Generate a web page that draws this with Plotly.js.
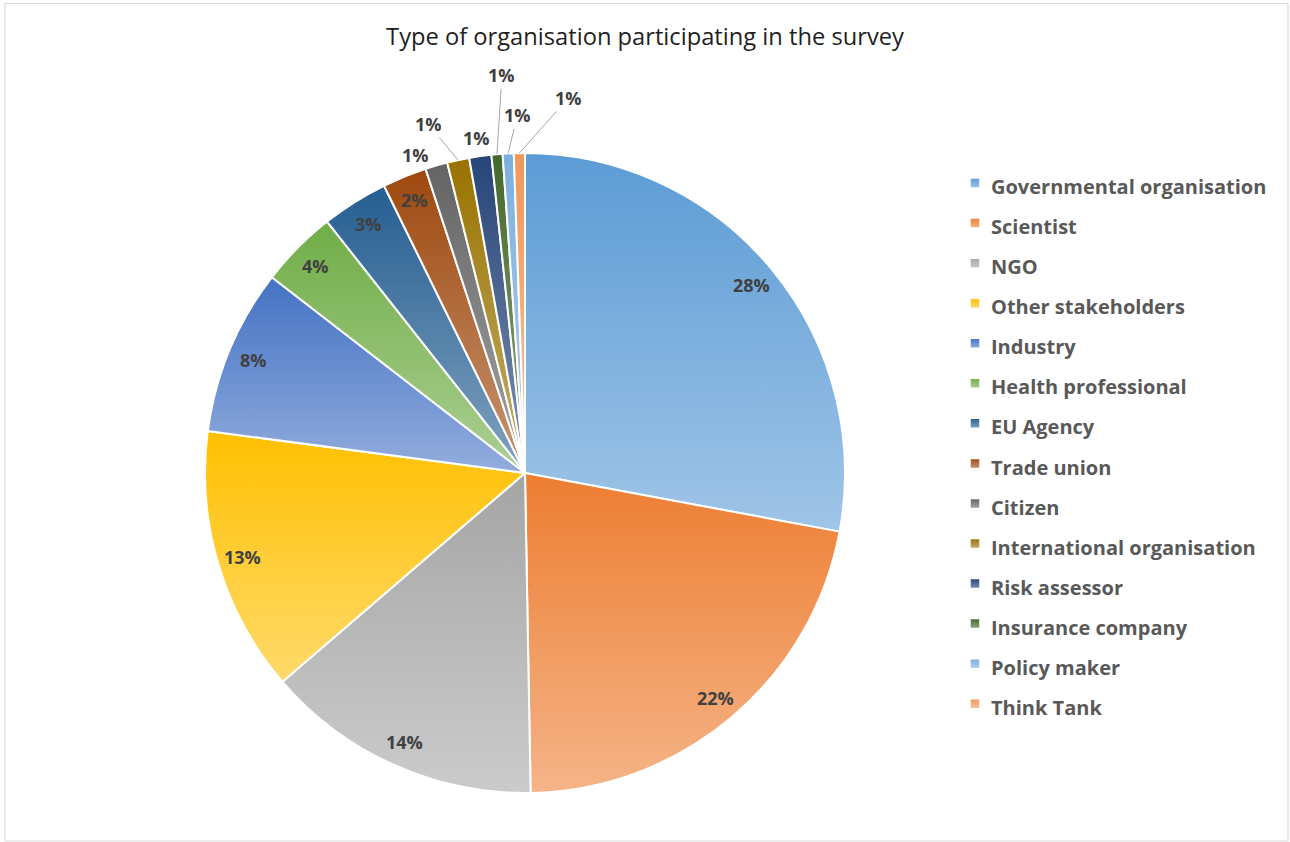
<!DOCTYPE html>
<html>
<head>
<meta charset="utf-8">
<script src="https://cdn.plot.ly/plotly-3.0.1.min.js"></script>
<style>
  html, body { margin: 0; padding: 0; background: #ffffff; }
  #chart { width: 1290px; height: 842px; }
</style>
</head>
<body>
<div id="chart"></div>
<script>
// ---------------- DATA ----------------
var categories = [
  "Governmental organisation", "Scientist", "NGO", "Other stakeholders",
  "Industry", "Health professional", "EU Agency", "Trade union", "Citizen",
  "International organisation", "Risk assessor", "Insurance company",
  "Policy maker", "Think Tank"
];
var respondents = [50, 39, 25, 24, 15, 7, 6, 4, 2, 2, 2, 1, 1, 1];
var chartTitle = "Type of organisation participating in the survey";

// ---------------- STYLE ----------------
var colors = [
  "#5B9BD5", "#ED7D31", "#A5A5A5", "#FFC000", "#4472C4", "#70AD47",
  "#255E91", "#9E480E", "#636363", "#997300", "#264478", "#43682B",
  "#7CAFDD", "#F1975A"
];
var W = 1290, H = 842;
var pieCx = 525, pieCy = 473, pieR = 320;   // pixel layout of the pie
var insideLabelFrac = 0.92;                 // radial position of inside labels
var outsideThreshold = 0.015;               // share below which the label goes outside
// pixel nudges (text centre relative to the slice edge) for the crowded outside labels
var labelNudges = {
  "Citizen": {dx: -21, dy: -11, line: false},
  "International organisation": {dx: -30, dy: -36, line: true},
  "Risk assessor": {dx: -4, dy: -18, line: false},
  "Insurance company": {dx: 5, dy: -79, line: true},
  "Policy maker": {dx: 9, dy: -38, line: true},
  "Think Tank": {dx: 49, dy: -55, line: true}
};
var labelFont = {family: "Open Sans, sans-serif", size: 18, color: "#404040", weight: 700};

// ---------------- BUILD ----------------
var total = respondents.reduce(function (a, b) { return a + b; }, 0);
var annotations = [];
var cum = 0;
for (var i = 0; i < respondents.length; i++) {
  var share = respondents[i] / total;
  var mid = cum + share / 2;       // fraction of the full turn, clockwise from 12 o'clock
  cum += share;
  var ang = mid * 2 * Math.PI;
  var sx = Math.sin(ang), sy = -Math.cos(ang);
  var txt = Math.round(share * 100) + "%";
  if (share >= outsideThreshold) {
    var px = pieCx + sx * pieR * insideLabelFrac;
    var py = pieCy + sy * pieR * insideLabelFrac;
    annotations.push({
      xref: "paper", yref: "paper", x: px / W, y: 1 - py / H,
      text: txt, showarrow: false, font: labelFont,
      xanchor: "center", yanchor: "middle"
    });
  } else {
    var ex = pieCx + sx * pieR, ey = pieCy + sy * pieR;
    var nud = labelNudges[categories[i]] || {dx: sx * 30, dy: sy * 30, line: true};
    annotations.push({
      xref: "paper", yref: "paper", x: ex / W, y: 1 - ey / H,
      text: txt, showarrow: true, ax: nud.dx, ay: nud.dy,
      arrowhead: 0, arrowwidth: 1,
      arrowcolor: nud.line ? "#A6A6A6" : "rgba(0,0,0,0)",
      standoff: 0, startstandoff: 0,
      font: labelFont, xanchor: "center", yanchor: "middle"
    });
  }
}

var trace = {
  type: "pie",
  labels: categories.map(function (c) { return '<span style="font-size:20px">' + c + '</span>'; }),
  values: respondents,
  sort: false,
  direction: "clockwise",
  rotation: 0,
  textinfo: "none",
  hoverinfo: "label+percent",
  marker: { colors: colors, line: { color: "#FFFFFF", width: 2 } },
  domain: {
    x: [(pieCx - pieR) / W, (pieCx + pieR) / W],
    y: [1 - (pieCy + pieR) / H, 1 - (pieCy - pieR) / H]
  }
};

var layout = {
  width: W, height: H,
  margin: {l: 0, r: 0, t: 0, b: 0, autoexpand: false},
  paper_bgcolor: "#FFFFFF",
  font: {family: "Open Sans, sans-serif", color: "#404040"},
  title: {
    text: chartTitle,
    font: {family: "Open Sans, sans-serif", size: 23.7, color: "#1F1F1F"},
    x: 0.5, xanchor: "center", xref: "paper",
    y: 1 - 37 / H, yanchor: "middle", yref: "container"
  },
  showlegend: true,
  legend: {
    x: 951 / W, xanchor: "left",
    y: 1 - 158 / H, yanchor: "top",
    font: {family: "Open Sans, sans-serif", size: 28.5, color: "#595959", weight: 700},
    bgcolor: "rgba(0,0,0,0)", borderwidth: 0,
    itemwidth: 30, traceorder: "normal"
  },
  annotations: annotations,
  shapes: [{
    type: "rect", xref: "paper", yref: "paper",
    x0: 5 / W, x1: 1288 / W, y0: 1 - 841 / H, y1: 1 - 3.5 / H,
    line: {color: "#D9D9D9", width: 1.2}, fillcolor: "rgba(0,0,0,0)", layer: "below"
  }]
};

function lighten(hex, t) {
  var n = parseInt(hex.slice(1), 16);
  var r = (n >> 16) & 255, g = (n >> 8) & 255, b = n & 255;
  r = Math.round(r + (255 - r) * t); g = Math.round(g + (255 - g) * t); b = Math.round(b + (255 - b) * t);
  return "rgb(" + r + "," + g + "," + b + ")";
}

var gd = document.getElementById("chart");
Plotly.newPlot(gd, [trace], layout, {displayModeBar: false, staticPlot: true}).then(function () {
  var ns = "http://www.w3.org/2000/svg";
  var defs = gd.querySelector("svg.main-svg defs");
  if (!defs) return;
  colors.forEach(function (c, i) {
    var lg = document.createElementNS(ns, "linearGradient");
    lg.setAttribute("id", "sliceGrad" + i);
    lg.setAttribute("x1", "0"); lg.setAttribute("y1", "0");
    lg.setAttribute("x2", "0"); lg.setAttribute("y2", "1");
    var s0 = document.createElementNS(ns, "stop");
    s0.setAttribute("offset", "0"); s0.setAttribute("stop-color", c);
    var s1 = document.createElementNS(ns, "stop");
    s1.setAttribute("offset", "1"); s1.setAttribute("stop-color", lighten(c, 0.42));
    lg.appendChild(s0); lg.appendChild(s1);
    defs.appendChild(lg);
  });
  var slices = gd.querySelectorAll("g.slice");
  slices.forEach(function (s, k) {
    var idx = (s.__data__ && typeof s.__data__.i === "number") ? s.__data__.i : k;
    var p = s.querySelector("path.surface");
    if (p) p.style.fill = "url(#sliceGrad" + idx + ")";
  });
  var leg = gd.querySelectorAll("g.legend g.traces");
  leg.forEach(function (t, k) {
    var p = t.querySelector("path.legendpie");
    if (p) p.style.fill = "url(#sliceGrad" + k + ")";
    var lp = t.querySelector("g.legendpoints");
    if (lp) {
      var tr = lp.getAttribute("transform") || "";
      lp.setAttribute("transform", "translate(7,0) scale(0.85) " + tr);
    }
  });
});
</script>
</body>
</html>
